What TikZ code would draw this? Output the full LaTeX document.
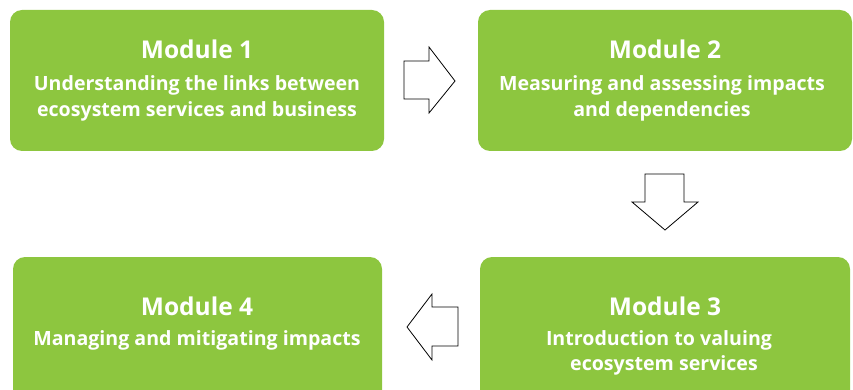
\documentclass[tikz,border=0pt]{standalone}
\usepackage{fontspec}
\setmainfont{Open Sans}
\definecolor{boxgreen}{HTML}{8DC63F}
\begin{document}
\begin{tikzpicture}[x=1pt,y=-1pt,
  box/.style={fill=boxgreen,draw=none,rounded corners=12pt,inner sep=0pt},
  ttl/.style={text=white,font=\bfseries\fontsize{24.5}{28}\selectfont,anchor=base,inner sep=0pt},
  sub/.style={text=white,font=\bfseries\fontsize{19.6}{24}\selectfont,anchor=base,inner sep=0pt},
  blk/.style={draw=black,fill=white,line width=0.8pt,line join=miter}]
\useasboundingbox (0,0) rectangle (853,390);
% boxes
\node[box,minimum width=374pt,minimum height=141pt] (m1) at (197,80.5) {};
\node[box,minimum width=374pt,minimum height=141pt] (m2) at (665,80.5) {};
\node[box,minimum width=370pt,minimum height=150pt] (m3) at (665,332) {};
\node[box,minimum width=369pt,minimum height=150pt] (m4) at (197.5,332) {};
% texts
\node[ttl] (t1) at (197,59) {Module 1};
\node[sub] (s1a) at (197,91) {Understanding the links between};
\node[sub] (s1b) at (197,117) {ecosystem services and business};
\node[ttl] (t2) at (665,59) {Module 2};
\node[sub] (s2a) at (662,91) {Measuring and assessing impacts};
\node[sub] (s2b) at (662,117) {and dependencies};
\node[ttl] (t3) at (665,315) {Module 3};
\node[sub] (s3a) at (659,345) {Introduction to valuing};
\node[sub] (s3b) at (664,370) {ecosystem services};
\node[ttl] (t4) at (197,315) {Module 4};
\node[sub] (s4a) at (197,345) {Managing and mitigating impacts};
% block arrows
\draw[blk] (404,61) -- (429,61) -- (429,47) -- (455,81) -- (429,113) -- (429,99) -- (404,99) -- cycle;
\draw[blk] (645,174) -- (684,174) -- (684,202) -- (698,202) -- (665,230) -- (632,202) -- (645,202) -- cycle;
\draw[blk] (458,307) -- (432,307) -- (432,294) -- (407,327) -- (432,360) -- (432,346) -- (458,346) -- cycle;
\end{tikzpicture}
\end{document}
